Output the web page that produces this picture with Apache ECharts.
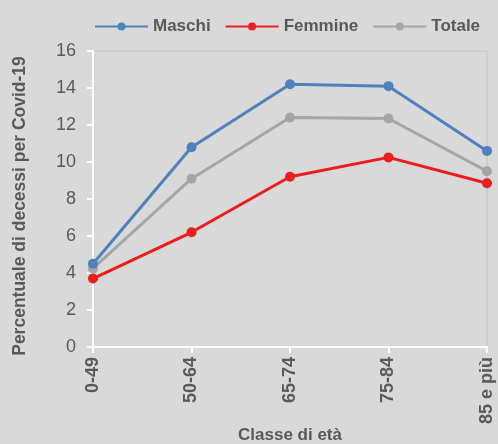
<!DOCTYPE html>
<html>
<head>
<meta charset="utf-8">
<script src="https://cdn.jsdelivr.net/npm/echarts@6/dist/echarts.min.js"></script>
<style>
  html, body { margin: 0; padding: 0; background: #d9d9d9; }
  #chart { width: 498px; height: 444px; }
</style>
</head>
<body>
<div id="chart"></div>
<script>
var categories = ['0-49', '50-64', '65-74', '75-84', '85 e più'];
var maschi = [4.5, 10.8, 14.2, 14.1, 10.6];
var femmine = [3.7, 6.2, 9.2, 10.25, 8.85];
var totale = [4.25, 9.1, 12.4, 12.35, 9.5];
var yTicks = { min: 0, max: 16, interval: 2 };

var font = "'Liberation Sans', Arial, sans-serif";

function mkSeries(name, data, color) {
  return {
    name: name,
    type: 'line',
    data: data,
    symbol: 'circle',
    symbolSize: 10,
    itemStyle: { color: color },
    lineStyle: { color: color, width: 3 },
    z: name === 'Femmine' ? 3 : (name === 'Maschi' ? 2 : 1)
  };
}

var myChart = echarts.init(document.getElementById('chart'));
var option = {
  backgroundColor: '#d9d9d9',
  animation: false,
  textStyle: { fontFamily: font },
  legend: {
    top: 13,
    left: 89,
    itemWidth: 53,
    itemHeight: 10,
    itemGap: 14,
    textStyle: { fontFamily: font, fontSize: 17, fontWeight: 'bold', color: '#595959' },
    data: ['Maschi', 'Femmine', 'Totale']
  },
  grid: {
    left: 93, right: 11, top: 51, bottom: 97,
    outerBoundsMode: 'none',
    show: true, borderColor: '#c4c4c4', borderWidth: 1, backgroundColor: 'transparent'
  },
  xAxis: {
    type: 'category',
    boundaryGap: false,
    data: categories,
    name: 'Classe di età',
    nameLocation: 'middle',
    nameGap: 80,
    nameMoveOverlap: false,
    nameTextStyle: { fontFamily: font, fontSize: 17, fontWeight: 'bold', color: '#595959' },
    axisLine: { lineStyle: { color: '#ffffff', width: 2 } },
    axisTick: { show: true, length: 6, lineStyle: { color: '#ffffff', width: 2 } },
    axisLabel: { rotate: 90, fontFamily: font, fontSize: 18, fontWeight: 'bold', color: '#595959', margin: 10 },
    splitLine: { show: false }
  },
  yAxis: {
    type: 'value',
    min: yTicks.min,
    max: yTicks.max,
    interval: yTicks.interval,
    name: 'Percentuale di decessi per Covid-19',
    nameLocation: 'middle',
    nameGap: 64,
    nameMoveOverlap: false,
    nameTextStyle: { fontFamily: font, fontSize: 17.5, fontWeight: 'bold', color: '#595959', padding: [0, 14, 0, 0] },
    axisLine: { show: true, lineStyle: { color: '#ffffff', width: 2 } },
    axisTick: { show: true, length: 6, lineStyle: { color: '#ffffff', width: 2 } },
    axisLabel: { fontFamily: font, fontSize: 18, color: '#595959', margin: 17 },
    splitLine: { show: false }
  },
  series: [
    mkSeries('Maschi', maschi, '#4f81bd'),
    mkSeries('Femmine', femmine, '#ee1c1c'),
    mkSeries('Totale', totale, '#a5a5a5')
  ]
};
option && myChart.setOption(option);
</script>
</body>
</html>
